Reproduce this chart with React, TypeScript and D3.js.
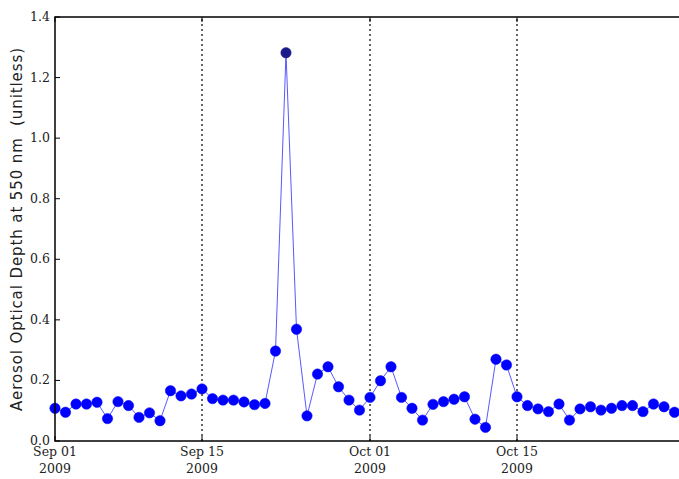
import React from "react";
import * as d3 from "d3";

// Daily aerosol optical depth at 550 nm, Sep 01 – Oct 30 2009
const startDate = "2009-09-01";
const aodValues = [
  0.108, 0.095, 0.122, 0.122, 0.128, 0.074, 0.13, 0.117, 0.078, 0.093,
  0.067, 0.166, 0.149, 0.155, 0.172, 0.14, 0.135, 0.135, 0.129, 0.12,
  0.124, 0.297, 1.282, 0.369, 0.083, 0.221, 0.245, 0.179, 0.135, 0.102,
  0.144, 0.199, 0.245, 0.144, 0.108, 0.069, 0.121, 0.13, 0.138, 0.146,
  0.072, 0.045, 0.27, 0.251, 0.146, 0.117, 0.106, 0.097, 0.122, 0.069,
  0.106, 0.113, 0.102, 0.108, 0.117, 0.117, 0.097, 0.122, 0.113, 0.095,
];
const xTickDates = ["2009-09-01", "2009-09-15", "2009-10-01", "2009-10-15"];
const gridDates = ["2009-09-15", "2009-10-01", "2009-10-15"];
const yTicks = [0, 0.2, 0.4, 0.6, 0.8, 1.0, 1.2, 1.4];
const xDomain = ["2009-09-01", "2009-10-31"];
const yLabel = "Aerosol Optical Depth at 550 nm  (unitless)";

const W = 679;
const H = 479;
const M = { left: 55, top: 17, right: 685, bottom: 441 };

const parse = d3.utcParse("%Y-%m-%d");
const fmtTop = d3.utcFormat("%b %d");
const fmtBottom = d3.utcFormat("%Y");

export default function App() {
  const t0 = parse(startDate)!;
  const data = aodValues.map((v, i) => ({ date: d3.utcDay.offset(t0, i), v }));

  const x = d3
    .scaleUtc()
    .domain(xDomain.map((d) => parse(d)!))
    .range([M.left, M.right]);
  const y = d3.scaleLinear().domain([0, 1.4]).range([M.bottom, M.top]);

  const line = d3
    .line<{ date: Date; v: number }>()
    .x((d) => x(d.date))
    .y((d) => y(d.v));

  const maxV = d3.max(aodValues)!;
  const serif = "'DejaVu Serif', serif";
  const sans = "'DejaVu Sans', sans-serif";
  const txt = "#222";

  return (
    <div style={{ position: "fixed", left: 0, top: 0 }}>
      <svg width={W} height={H} style={{ display: "block", background: "#fff" }}>
        {/* dotted vertical date guides */}
        {gridDates.map((d) => (
          <line
            key={d}
            x1={x(parse(d)!)}
            x2={x(parse(d)!)}
            y1={M.bottom}
            y2={M.top}
            stroke="#000"
            strokeWidth={1.2}
            strokeDasharray="2,3"
          />
        ))}

        {/* series */}
        <path d={line(data) ?? ""} fill="none" stroke="#4545ff" strokeWidth={0.9} />
        {data.map((d, i) => (
          <circle
            key={i}
            cx={x(d.date)}
            cy={y(d.v)}
            r={5.2}
            fill={d.v === maxV ? "#1a1a8a" : "#0000ff"}
            stroke={d.v === maxV ? "#1a1a8a" : "#0000ff"}
            strokeWidth={0.5}
          />
        ))}

        {/* frame */}
        <rect
          x={M.left}
          y={M.top}
          width={M.right - M.left}
          height={M.bottom - M.top}
          fill="none"
          stroke="#000"
          strokeWidth={1.5}
        />

        {/* y ticks */}
        {yTicks.map((t) => (
          <g key={t}>
            <line x1={M.left} x2={M.left + 5} y1={y(t)} y2={y(t)} stroke="#000" strokeWidth={1} />
            <line x1={M.right - 5} x2={M.right} y1={y(t)} y2={y(t)} stroke="#000" strokeWidth={1} />
            <text
              x={M.left - 5}
              y={y(t)}
              dy="0.32em"
              textAnchor="end"
              fontFamily={serif}
              fontSize={12.5}
              fill={txt}
            >
              {t.toFixed(1)}
            </text>
          </g>
        ))}

        {/* x ticks */}
        {xTickDates.map((d) => {
          const dt = parse(d)!;
          const px = x(dt);
          return (
            <g key={d}>
              <line x1={px} x2={px} y1={M.bottom} y2={M.bottom - 5} stroke="#000" strokeWidth={1} />
              <line x1={px} x2={px} y1={M.top} y2={M.top + 5} stroke="#000" strokeWidth={1} />
              <text x={px} y={456} textAnchor="middle" fontFamily={serif} fontSize={12.5} fill={txt}>
                {fmtTop(dt)}
              </text>
              <text x={px} y={473} textAnchor="middle" fontFamily={serif} fontSize={12.5} fill={txt}>
                {fmtBottom(dt)}
              </text>
            </g>
          );
        })}

        {/* y axis title */}
        <text
          transform={`translate(22,229) rotate(-90)`}
          textAnchor="middle"
          fontFamily={sans}
          fontSize={15}
          letterSpacing={0.9}
          fill={txt}
          xmlSpace="preserve"
        >
          {yLabel}
        </text>
      </svg>
    </div>
  );
}
